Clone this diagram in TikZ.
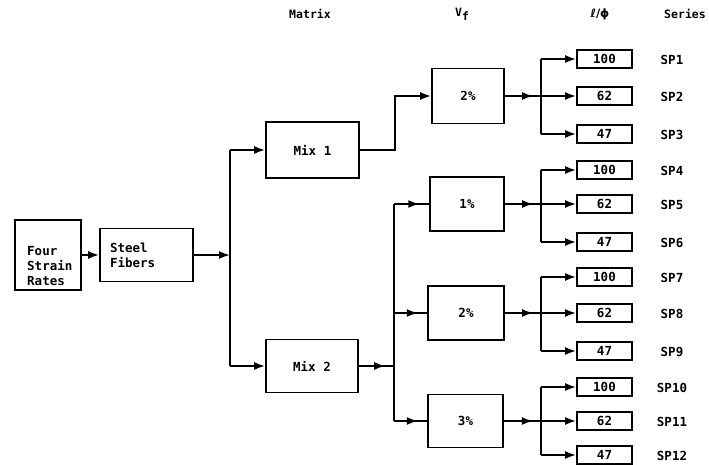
\documentclass[tikz,border=0pt]{standalone}
\usepackage{fontspec}
\setmonofont{DejaVu Sans Mono}
\newfontfamily\dvs{DejaVu Sans}
\usetikzlibrary{arrows.meta,decorations.markings}
\newcommand\lab{\ttfamily\bfseries\fontsize{12.5}{15}\selectfont}
\newcommand\hdr{\ttfamily\bfseries\fontsize{11.5}{13}\selectfont}
\begin{document}
\begin{tikzpicture}[x=1pt,y=-1pt,
  box/.style={draw, line width=1.8pt, inner sep=0pt, font=\lab},
  lbox/.style={box, minimum width=55pt, minimum height=18pt},
  serlab/.style={font=\lab, inner sep=0pt},
  head/.style={font=\hdr, inner sep=0pt},
  conn/.style={line width=1.8pt},
  tip/.style={-{Latex[length=11pt,width=8pt]}},
  midtip/.style={postaction={decorate}, decoration={markings, mark=at position #1 with {\arrow{Latex[length=11pt,width=8pt]}}}}
]
\useasboundingbox[fill=white] (0,0) rectangle (709,465);

% headers
\node[head] (hmat) at (310,14) {Matrix};
\node[head] (hvf) at (462,14) {V\raisebox{-4pt}{f}};
\node[head] (hld) at (600,14) {{\dvs\bfseries ℓ/ϕ}};
\node[head] (hser) at (685,14) {Series};

% left boxes
\node[box, minimum width=66pt, minimum height=70pt] (four) at (48,255) {};
\node[font=\lab, anchor=west, align=left, inner sep=0pt] (fourtxt) at (27,266) {Four\\Strain\\Rates};
\node[box, minimum width=93pt, minimum height=53pt, text width=73pt, align=left] (steel) at (146.5,255) {Steel\\Fibers};

\node[box, minimum width=93pt, minimum height=56pt] (mix1) at (312.5,150) {Mix 1};
\node[box, minimum width=92pt, minimum height=53pt] (mix2) at (312,366) {Mix 2};

\node[box, minimum width=72pt, minimum height=55pt] (v1) at (468,96) {2\%};
\node[box, minimum width=74pt, minimum height=54pt] (v2) at (467,204) {1\%};
\node[box, minimum width=76pt, minimum height=54pt] (v3) at (466,313) {2\%};
\node[box, minimum width=75pt, minimum height=53pt] (v4) at (465.5,421) {3\%};

% connectors left part
\coordinate (j0) at (230,255);
\coordinate (jt) at (230,150);
\coordinate (jb) at (230,366);
\draw[conn,tip] (four) -- (steel);
\draw[conn,tip] (steel) -- (j0);
\draw[conn] (jt) -- (jb);
\draw[conn,tip] (jt) -- (mix1);
\draw[conn,tip] (jb) -- (mix2);

\coordinate (k1) at (395,150);
\draw[conn,tip] (mix1.east) -- (k1) |- (v1.west);

\coordinate (k2) at (394,366);
\coordinate (k2a) at (394,204);
\coordinate (k2b) at (394,313);
\coordinate (k2c) at (394,421);
\draw[conn,midtip=0.75] (mix2.east) -- (k2);
\draw[conn] (k2a) -- (k2c);
\draw[conn,midtip=0.72] (k2a) -- (v2.west);
\draw[conn,midtip=0.72] (k2b) -- (v3.west);
\draw[conn,midtip=0.72] (k2c) -- (v4.west);

% right part
\foreach \g/\vy/\ya/\yc/\sa/\sb/\sc in {1/96/59/134/1/2/3, 2/204/170/242/4/5/6, 3/313/277/351/7/8/9, 4/421/387/455/10/11/12} {
  \node[lbox] (la\g) at (604.5,\ya) {100};
  \node[lbox] (lb\g) at (604.5,\vy) {62};
  \node[lbox] (lc\g) at (604.5,\yc) {47};
  \node[serlab] (sa\g) at (672,\ya+1) {SP\sa};
  \node[serlab] (sb\g) at (672,\vy+1) {SP\sb};
  \node[serlab] (sc\g) at (672,\yc+1) {SP\sc};
  \coordinate (ja\g) at (541,\ya);
  \coordinate (jb\g) at (541,\vy);
  \coordinate (jc\g) at (541,\yc);
  \draw[conn,midtip=0.78] (v\g.east) -- (jb\g);
  \draw[conn] (ja\g) -- (jc\g);
  \draw[conn,tip] (ja\g) -- (la\g);
  \draw[conn,tip] (jb\g) -- (lb\g);
  \draw[conn,tip] (jc\g) -- (lc\g);
}
\end{tikzpicture}
\end{document}
